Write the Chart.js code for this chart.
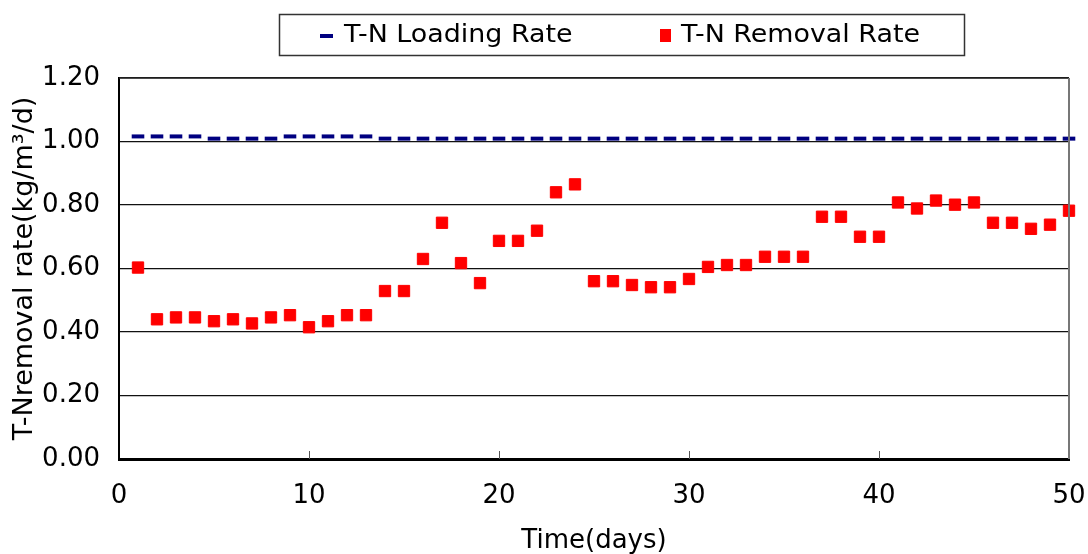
<!DOCTYPE html>
<html>
<head>
<meta charset="utf-8">
<script src="https://cdn.jsdelivr.net/npm/chart.js@4/dist/chart.umd.min.js"></script>
<style>
  html, body { margin: 0; padding: 0; background: #fff; }
  #wrap { width: 1088px; height: 554px; }
</style>
</head>
<body>
<div id="wrap"><canvas id="c" width="1088" height="554"></canvas></div>
<script>
// ---- data ----
const days = [1,2,3,4,5,6,7,8,9,10,11,12,13,14,15,16,17,18,19,20,21,22,23,24,25,26,27,28,29,30,31,32,33,34,35,36,37,38,39,40,41,42,43,44,45,46,47,48,49,50];
const loadingRate = [1.016,1.016,1.016,1.016,1.009,1.009,1.009,1.009,1.016,1.016,1.016,1.016,1.016,1.009,1.009,1.009,1.009,1.009,1.009,1.009,1.009,1.009,1.009,1.009,1.009,1.009,1.009,1.009,1.009,1.009,1.009,1.009,1.009,1.009,1.009,1.009,1.009,1.009,1.009,1.009,1.009,1.009,1.009,1.009,1.009,1.009,1.009,1.009,1.009,1.009];
const removalRate = [0.603,0.440,0.446,0.446,0.434,0.440,0.427,0.446,0.453,0.415,0.434,0.453,0.453,0.529,0.529,0.630,0.744,0.617,0.554,0.687,0.687,0.719,0.840,0.865,0.560,0.560,0.548,0.541,0.541,0.567,0.605,0.611,0.611,0.637,0.637,0.637,0.763,0.763,0.700,0.700,0.808,0.789,0.814,0.801,0.808,0.744,0.744,0.725,0.738,0.782];
const seriesNames = ['T-N Loading Rate', 'T-N Removal Rate'];
const xTicks = [0,10,20,30,40,50];
const yTicks = [0,0.2,0.4,0.6,0.8,1.0,1.2];
const xTitle = 'Time(days)';
const yTitle = 'T-Nremoval rate(kg/m\u00B3/d)';

const FONT = '"DejaVu Sans", "Liberation Sans", sans-serif';
const NAVY = '#000080';
const RED = '#ff0000';

const toPts = (ys) => days.map((d, i) => ({ x: d, y: ys[i] }));

const framePlugin = {
  id: 'frame',
  afterDatasetsDraw(chart) {
    const { ctx, chartArea: a, scales } = chart;
    ctx.save();
    ctx.strokeStyle = '#222';
    ctx.lineWidth = 1.5;
    ctx.beginPath(); ctx.moveTo(a.left, a.top); ctx.lineTo(a.right, a.top); ctx.stroke();
    ctx.strokeStyle = '#777';
    ctx.lineWidth = 2;
    ctx.beginPath(); ctx.moveTo(a.right, a.top); ctx.lineTo(a.right, a.bottom); ctx.stroke();
    ctx.strokeStyle = '#555';
    ctx.lineWidth = 1;
    xTicks.forEach(v => {
      if (v === xTicks[0] || v === xTicks[xTicks.length - 1]) return;
      const px = Math.round(scales.x.getPixelForValue(v)) + 0.5;
      ctx.beginPath(); ctx.moveTo(px, a.bottom); ctx.lineTo(px, a.bottom - 8); ctx.stroke();
    });
    ctx.restore();
  },
  afterDraw(chart) {
    const { ctx, data } = chart;
    const ds = data.datasets;
    ctx.save();
    ctx.strokeStyle = '#333';
    ctx.lineWidth = 1.5;
    ctx.strokeRect(279.5, 14.5, 685, 41);
    const drawText = (txt, x, y) => {
      ctx.save();
      ctx.translate(x, y);
      ctx.scale(1.12, 1);
      ctx.fillStyle = '#000';
      ctx.font = '24px ' + FONT;
      ctx.textBaseline = 'middle';
      ctx.textAlign = 'left';
      ctx.fillText(txt, 0, 0);
      ctx.restore();
    };
    ctx.strokeStyle = ds[0].pointBorderColor;
    ctx.lineWidth = 4;
    ctx.beginPath(); ctx.moveTo(320, 36); ctx.lineTo(333, 36); ctx.stroke();
    drawText(ds[0].label, 344, 36);
    ctx.fillStyle = ds[1].pointBackgroundColor;
    ctx.fillRect(660, 29, 11, 13);
    drawText(ds[1].label, 681, 36);
    ctx.restore();
  }
};

new Chart(document.getElementById('c'), {
  type: 'scatter',
  data: {
    datasets: [
      {
        label: seriesNames[0],
        data: toPts(loadingRate),
        pointStyle: 'line',
        pointRadius: 6.3,
        pointHoverRadius: 6.3,
        pointBorderWidth: 4,
        pointBorderColor: NAVY,
        pointBackgroundColor: NAVY,
        showLine: false,
        clip: false
      },
      {
        label: seriesNames[1],
        data: toPts(removalRate),
        pointStyle: 'rect',
        pointRadius: 8,
        pointHoverRadius: 8,
        pointBorderWidth: 1,
        pointBorderColor: RED,
        pointBackgroundColor: RED,
        showLine: false,
        clip: false
      }
    ]
  },
  options: {
    responsive: false,
    animation: false,
    devicePixelRatio: 1,
    layout: { padding: { left: 0, right: 19, top: 78, bottom: 0 } },
    plugins: {
      legend: { display: false },
      tooltip: { enabled: false }
    },
    scales: {
      x: {
        type: 'linear',
        min: xTicks[0],
        max: xTicks[xTicks.length - 1],
        afterBuildTicks: (s) => { s.ticks = xTicks.map(v => ({ value: v })); },
        afterFit: (s) => { s.height = 95; s.paddingLeft = 0; s.paddingRight = 0; },
        grid: { display: false, drawTicks: false },
        border: { display: true, color: '#000', width: 3 },
        ticks: { color: '#000', font: { family: FONT, size: 26 }, padding: 22, maxRotation: 0 },
        title: { display: true, text: xTitle, color: '#000', font: { family: FONT, size: 26 }, padding: { top: 0, bottom: -3 } }
      },
      y: {
        min: yTicks[0],
        max: yTicks[yTicks.length - 1],
        afterBuildTicks: (s) => { s.ticks = yTicks.map(v => ({ value: v })); },
        afterFit: (s) => { s.width = 119; },
        grid: { color: '#111', lineWidth: 1.3, drawTicks: false },
        border: { display: true, color: '#000', width: 2 },
        ticks: { color: '#000', font: { family: FONT, size: 26 }, padding: 19, callback: (v) => Number(v).toFixed(2) },
        title: { display: true, text: yTitle, color: '#000', font: { family: FONT, size: 27 }, padding: { top: 9, bottom: 0 } }
      }
    }
  },
  plugins: [framePlugin]
});
</script>
</body>
</html>
